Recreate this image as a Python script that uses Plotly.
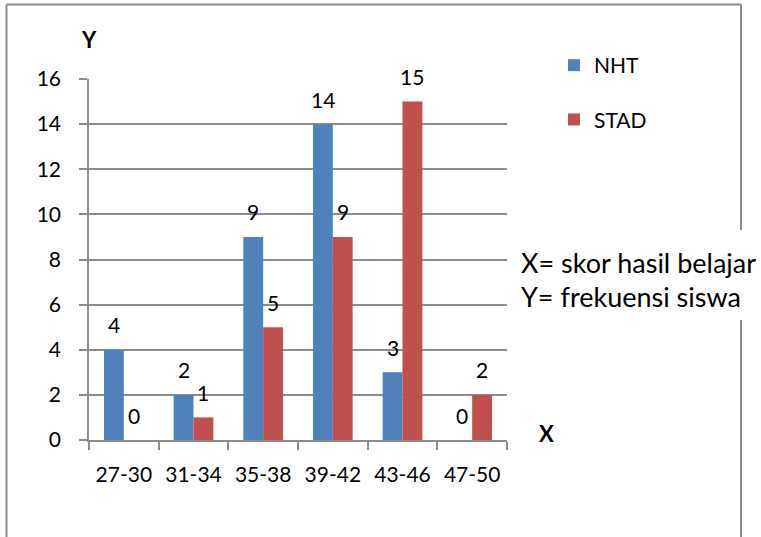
import plotly.graph_objects as go

categories = ["27-30", "31-34", "35-38", "39-42", "43-46", "47-50"]
nht = [4, 2, 9, 14, 3, 0]
stad = [0, 1, 5, 9, 15, 2]
series_names = ["NHT", "STAD"]
y_ticks = [0, 2, 4, 6, 8, 10, 12, 14, 16]

FONT = "Lato"
W, H = 761, 537
L, R, T, B = 89, 254, 79, 97
PW, PH = W - L - R, H - T - B

def px2x(px):
    return (px - L) / PW

def px2y(py):
    return (H - B - py) / PH

blue = "#4F81BD"
red = "#C0504D"
grid = "#8c8c8c"
bargap = 0.43

fig = go.Figure()
fig.add_trace(go.Bar(x=categories, y=nht, name=series_names[0], marker_color=blue,
                     marker_line_width=0, legendgroup="a"))
fig.add_trace(go.Bar(x=categories, y=stad, name=series_names[1], marker_color=red,
                     marker_line_width=0, legendgroup="b"))

half = PW / len(categories) * (1 - bargap) / 4
annotations = []
for vals, sh in ((nht, -half), (stad, half)):
    for c, v in zip(categories, vals):
        annotations.append(dict(x=c, y=v, xref="x", yref="y", text=str(v), showarrow=False,
                                xshift=sh, yshift=25, xanchor="center", yanchor="middle",
                                font=dict(family=FONT, size=21, color="black")))

annotations += [
    dict(x=px2x(89), y=px2y(40), xref="paper", yref="paper", text="<b>Y</b>", showarrow=False,
         xanchor="center", yanchor="middle", font=dict(family=FONT, size=22, color="black")),
    dict(x=px2x(546), y=px2y(433), xref="paper", yref="paper", text="<b>X</b>", showarrow=False,
         xanchor="center", yanchor="middle", font=dict(family=FONT, size=22, color="black")),
    dict(x=px2x(519), y=px2y(262), xref="paper", yref="paper", text="X= skor hasil belajar",
         showarrow=False, xanchor="left", yanchor="middle",
         font=dict(family=FONT, size=27, color="black")),
    dict(x=px2x(519), y=px2y(296), xref="paper", yref="paper", text="Y= frekuensi siswa",
         showarrow=False, xanchor="left", yanchor="middle",
         font=dict(family=FONT, size=27, color="black")),
]

bx0, bx1, by0, by1 = px2x(6.5), px2x(741), px2y(600), px2y(4.5)
line = dict(color="#8a8a8a", width=2)
shapes = [
    dict(type="line", xref="paper", yref="paper", x0=bx0, x1=bx0, y0=by0, y1=by1, line=line),
    dict(type="line", xref="paper", yref="paper", x0=bx0, x1=bx1, y0=by1, y1=by1, line=line),
    dict(type="line", xref="paper", yref="paper", x0=bx1, x1=bx1, y0=by1, y1=px2y(230), line=line),
    dict(type="line", xref="paper", yref="paper", x0=bx1, x1=bx1, y0=px2y(320), y1=by0, line=line),
]

fig.update_layout(
    width=W, height=H,
    margin=dict(l=L, r=R, t=T, b=B, autoexpand=False),
    paper_bgcolor="white", plot_bgcolor="white",
    barmode="group", bargap=bargap, bargroupgap=0,
    font=dict(family=FONT, size=21, color="black"),
    showlegend=True,
    legend=dict(x=px2x(554), y=px2y(45), xanchor="left", yanchor="top",
                tracegroupgap=24, font=dict(family=FONT, size=21, color="black"),
                bgcolor="rgba(0,0,0,0)"),
    annotations=annotations,
    shapes=shapes,
    xaxis=dict(type="category", showgrid=False, showline=True, linecolor=grid, linewidth=1.5,
               ticks="outside", tickson="boundaries", ticklen=8, tickcolor=grid, tickwidth=1.5,
               tickfont=dict(family=FONT, size=21, color="black"), ticklabelstandoff=15,
               fixedrange=True),
    yaxis=dict(range=[0, 16], tickvals=y_ticks, showgrid=True, gridcolor=grid, gridwidth=1.5,
               showline=True, linecolor=grid, linewidth=1.5, zeroline=False,
               ticks="outside", ticklen=8, tickcolor=grid, tickwidth=1.5,
               tickfont=dict(family=FONT, size=21, color="black"), ticklabelstandoff=14,
               fixedrange=True),
)

fig.write_html("out.html", config={"displayModeBar": False},
               post_script="document.body.style.margin='0px';document.body.style.overflow='hidden';")
